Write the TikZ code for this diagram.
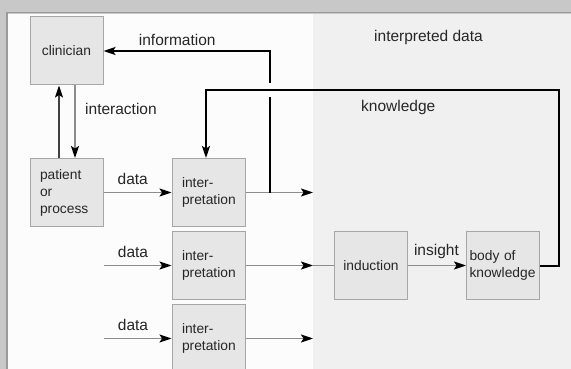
\documentclass[tikz,border=0pt]{standalone}
\usepackage{fontspec}
\setmainfont{Liberation Sans}
\usetikzlibrary{arrows.meta}
\definecolor{framegrey}{HTML}{C8C8C8}
\definecolor{rulegrey}{HTML}{9A9A9A}
\definecolor{leftpane}{HTML}{FCFCFC}
\definecolor{rightpane}{HTML}{F0F0F0}
\definecolor{boxfill}{HTML}{E6E6E6}
\definecolor{boxline}{HTML}{A6A6A6}
\definecolor{flowgrey}{HTML}{8C8C8C}
\newcommand{\boxfont}{\fontsize{13.8}{17}\selectfont}
\newcommand{\lblfont}{\fontsize{15.5}{18}\selectfont}

\begin{document}
\begin{tikzpicture}[x=1pt, y=-1pt,
  block/.style={rectangle, draw=boxline, fill=boxfill, line width=1pt, minimum width=73pt, minimum height=68pt, inner sep=0pt, font=\boxfont, text=black!85},
  lefttext/.style={align=left, text width=53pt},
  lbl/.style={inner sep=0pt, font=\lblfont, text=black!85},
  flow/.style={draw=flowgrey, line width=1.4pt},
  tip/.style={-{Stealth[length=12pt, width=8pt, inset=2.5pt, color=black]}},
  strong/.style={draw=black, line width=2pt}]
  \useasboundingbox (0,0) rectangle (571,369);
  \clip (0,0) rectangle (571,369);

  % window frame and the two panes
  \fill[framegrey] (0,0) rectangle (571,369);
  \fill[leftpane] (8,14) rectangle (313,369);
  \fill[rightpane] (313,14) rectangle (571,369);
  \draw[rulegrey, line width=1.5pt] (6.75,369) -- (6.75,12.75) -- (571,12.75);

  % blocks
  \node[block] (clinician) at (66.5,51) {clinician};
  \node[block, lefttext] (patient) at (66.5,192.5) {patient\\or\\process};
  \node[block, lefttext] (interpA) at (208.5,192.5) {inter-\\pretation};
  \node[block, lefttext] (interpB) at (208.5,265.5) {inter-\\pretation};
  \node[block, lefttext] (interpC) at (208.5,338.5) {inter-\\pretation};
  \node[block] (induction) at (371,265.5) {induction};
  \node[block, align=left, text width=67pt] (body) at (503,265.5) {body of\\knowledge};

  \coordinate (inB) at (104,265.5);
  \coordinate (inC) at (104,338.5);
  \coordinate (outA) at (313,192.5);
  \coordinate (outB) at (313,265.5);
  \coordinate (outC) at (313,338.5);
  \coordinate (split) at (270,192.5);
  \coordinate (gapbottom) at (270,97);
  \coordinate (gaptop) at (270,83);
  \coordinate (infocorner) at (270,51);
  \coordinate (bodyturn) at (559,265.5);
  \coordinate (knowcorner) at (559,90);
  \coordinate (knowdrop) at (206,90);

  % thin data flow
  \draw[flow, tip] ([xshift=8.5pt]clinician.south) -- ([xshift=8.5pt]patient.north);
  \draw[flow, draw=black!75, tip] ([xshift=-7.5pt]patient.north) -- ([xshift=-7.5pt]clinician.south);
  \draw[flow, tip] (patient) -- node[lbl, pos=0.43, anchor=base, yshift=8.5pt] {data} (interpA);
  \draw[flow, tip] (inB) -- node[lbl, pos=0.43, anchor=base, yshift=8.5pt] {data} (interpB);
  \draw[flow, tip] (inC) -- node[lbl, pos=0.43, anchor=base, yshift=8.5pt] {data} (interpC);
  \draw[flow, tip] (interpA) -- (outA);
  \draw[flow, tip] (interpB) -- (outB);
  \draw[flow] (outB) -- (induction);
  \draw[flow, tip] (interpC) -- (outC);
  \draw[flow, tip] (induction) -- node[lbl, pos=0.49, anchor=base, yshift=10pt] {insight} (body);

  % feedback loops
  \draw[strong] (split) -- (gapbottom);
  \draw[strong, tip] (gaptop) -- (infocorner) -- node[lbl, pos=0.557, anchor=base, yshift=5pt] {information} (clinician.east);
  \draw[strong, tip] (body) -- (bodyturn) -- (knowcorner) -- (knowdrop) -- (interpA.north -| knowdrop);

  \node[lbl, anchor=base west] (interactionlabel) at (85,114) {interaction};
  \node[lbl, anchor=base west] (interpretedlabel) at (374,42) {interpreted data};
  \node[lbl, anchor=base west] (knowledgelabel) at (361,111) {knowledge};
\end{tikzpicture}
\end{document}
